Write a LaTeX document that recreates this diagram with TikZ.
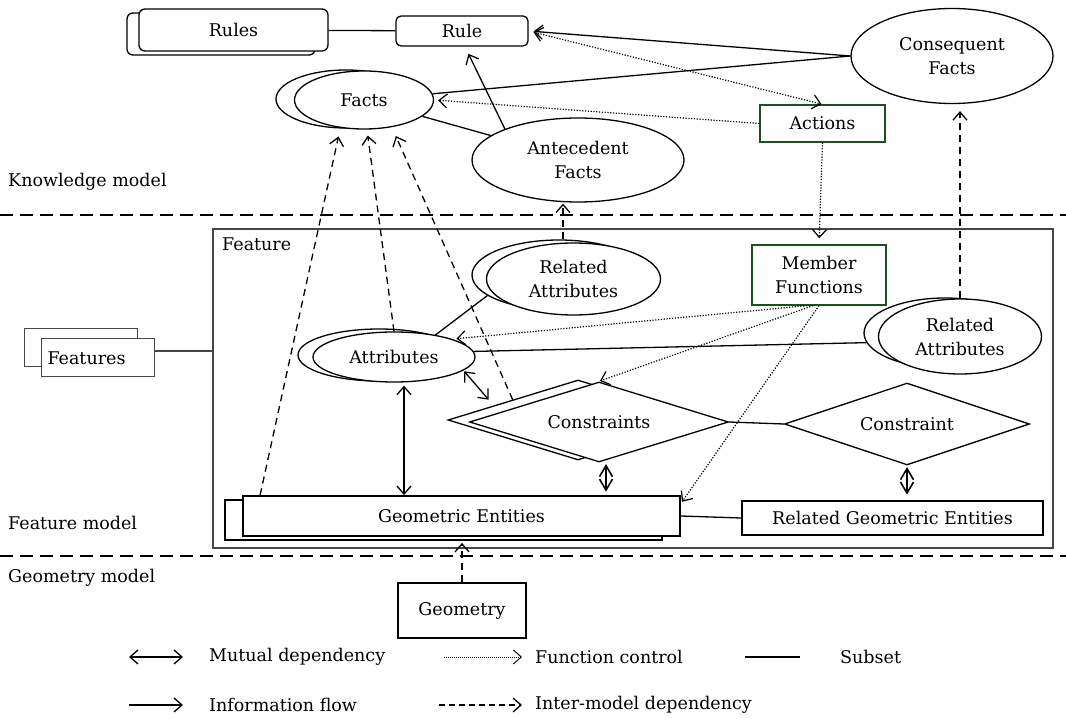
\documentclass[tikz,border=0pt]{standalone}
\usepackage{fontspec}
\setmainfont{DejaVu Serif}
\usetikzlibrary{shapes.geometric,arrows.meta,calc}
\definecolor{boxgreen}{RGB}{30,80,30}
\definecolor{framegray}{RGB}{70,70,70}
\begin{document}
\begin{tikzpicture}[x=1pt,y=-1pt,
  every node/.style={font=\fontsize{17.5}{24}\selectfont},
  ln/.style={line width=1.3pt},
  box/.style={draw,line width=1.3pt,fill=white,inner sep=0pt,align=center},
  ell/.style={ellipse,draw,line width=1.3pt,fill=white,inner sep=0pt,align=center},
  dia/.style={diamond,aspect=3.2,draw,line width=1.3pt,fill=white,inner sep=0pt,align=center},
  gbox/.style={box,draw=boxgreen},
  tip/.style={-{Straight Barb[length=8pt,width=14pt]}},
  dtip/.style={{Straight Barb[length=8pt,width=14pt]}-{Straight Barb[length=8pt,width=14pt]}},
  kiteln/.style={line width=1.6pt,line join=miter},
  dotl/.style={line width=1.2pt,dash pattern=on 1.2pt off 1.6pt},
  dashl/.style={line width=1.3pt,dash pattern=on 7pt off 5pt},
  sepl/.style={line width=1.6pt,dash pattern=on 13pt off 7pt},
  lbl/.style={anchor=west,inner sep=0pt},
]
\useasboundingbox (0,0) rectangle (1066,719);

% separators
\coordinate (s1a) at (0,215); \coordinate (s1b) at (1066,215);
\coordinate (s2a) at (0,556); \coordinate (s2b) at (1066,556);
\draw[sepl] (s1a) -- (s1b);
\draw[sepl] (s2a) -- (s2b);

% feature frame
\node[draw=framegray,line width=1.1pt,minimum width=840pt,minimum height=319pt,inner sep=0pt] (frame) at (633,388.5) {};
\node[lbl] (featlbl) at (222,244) {Feature};

% model labels
\node[lbl] (km) at (8,182) {Knowledge model};
\node[lbl] (fm) at (8,523) {Feature model};
\node[lbl] (gm) at (8,578) {Geometry model};

% knowledge model
\node[box,rounded corners=6pt,minimum width=188pt,minimum height=42pt] (rulesb) at (221,34) {};
\node[box,rounded corners=6pt,minimum width=189pt,minimum height=42pt] (rulesf) at (233.5,30) {Rules};
\node[box,rounded corners=5pt,minimum width=132pt,minimum height=30pt] (rule) at (462,31) {Rule};
\node[ell,minimum width=140pt,minimum height=58pt] (factsb) at (346,99) {};
\node[ell,minimum width=139pt,minimum height=58pt] (factsf) at (364,100) {Facts};
\node[ell,minimum width=212pt,minimum height=84pt] (ante) at (578,160) {Antecedent\\Facts};
\node[ell,minimum width=202pt,minimum height=95pt] (cf) at (952,56) {Consequent\\Facts};
\node[gbox,minimum width=125pt,minimum height=37pt] (actions) at (822.5,123.5) {Actions};

% feature model
\node[box,draw=framegray,line width=1pt,minimum width=113pt,minimum height=38pt] (featb) at (80.5,348) {};
\node[box,draw=framegray,line width=1pt,minimum width=113pt,minimum height=38pt,text width=100pt,align=left] (featf) at (97.5,358) {Features};
\node[gbox,minimum width=134pt,minimum height=60pt] (mf) at (819,275) {Member\\Functions};
\node[ell,minimum width=174pt,minimum height=70pt] (ra1b) at (559,275) {};
\node[ell,minimum width=174pt,minimum height=72pt] (ra1f) at (573.5,279) {Related\\Attributes};
\node[ell,minimum width=162pt,minimum height=52pt] (attrb) at (379,355) {};
\node[ell,minimum width=162pt,minimum height=50pt] (attrf) at (394,357) {Attributes};
\node[ell,minimum width=162pt,minimum height=70pt] (ra2b) at (945,333) {};
\node[ell,minimum width=163pt,minimum height=75pt] (ra2f) at (960,336.5) {Related\\Attributes};
\node[dia,minimum width=260pt,minimum height=80pt] (consb) at (578,420) {};
\node[dia,minimum width=259pt,minimum height=80pt] (consf) at (599,422) {Constraints};
\node[dia,minimum width=245pt,minimum height=82pt] (cons1) at (907,424) {Constraint};
\node[box,line width=1.8pt,minimum width=437pt,minimum height=40pt] (geb) at (443.5,520) {};
\node[box,line width=1.8pt,minimum width=437pt,minimum height=40pt] (gef) at (461.5,516) {Geometric Entities};
\node[box,line width=1.8pt,minimum width=301pt,minimum height=34pt] (rge) at (892.5,518) {Related Geometric Entities};

% geometry model
\node[box,line width=1.5pt,minimum width=128pt,minimum height=55pt] (geom) at (462,610.5) {Geometry};

% knowledge connectors
\draw[ln] (rulesf) -- (rule);
\draw[ln,tip,shorten >=5pt] (cf.west) -- (rule.east);
\draw[ln] (cf.west) -- (factsf);
\draw[dotl,dtip,shorten <=5pt,shorten >=1pt] (rule.east) -- (actions.north);
\draw[dotl,tip,shorten >=4pt] (actions.west) -- (factsf.east);
\draw[ln] (factsf) -- (ante);
\draw[ln,tip,shorten >=8pt] (ante.157) -- ([xshift=3pt]rule.south);
\draw[dotl,tip,shorten >=6pt] (actions.south) -- (mf.north);

% inter-model dependencies
\draw[dashl,tip,shorten >=7pt] ([xshift=18pt]gef.north west) -- ([xshift=-24pt]factsf.south);
\draw[dashl,tip,shorten >=6pt] (attrf.north) -- ([xshift=3pt]factsf.south);
\draw[dashl,tip,shorten >=7pt] (consb.north west) -- ([xshift=29pt]factsf.south);
\draw[dashl,tip,shorten >=1pt] ([xshift=4pt]ra1b.north) -- ([xshift=4pt]ra1b.north |- ante.south);
\draw[dashl,tip,shorten >=7pt] (ra2f.north) -- (ra2f.north |- cf.south);
\draw[dashl,tip,shorten >=2pt] (geom.north) -- (geom.north |- geb.south);

% function control from member functions
\draw[dotl,tip,shorten >=4pt] ([xshift=-12pt]mf.south) -- (attrf.17);
\draw[dotl,tip,shorten >=1pt] ([xshift=-6pt]mf.south) -- (consf.north);
\draw[dotl,tip,shorten >=2pt] (mf.south) -- ($(gef.north east)!0.4!(gef.east)$);

% subsets
\draw[ln] (attrf.28) -- (ra1b.196);
\draw[ln] (attrf.4) -- (ra2b.187);
\draw[line width=1.1pt,framegray] ([yshift=7pt]featf.east) -- ([yshift=7pt]featf.east -| frame.west);
\draw[ln] (consf.east) -- (cons1.west);
\draw[ln] (gef.east) -- (rge.west);

% mutual dependencies
\draw[ln,dtip,shorten <=1pt] (attrf.-11) -- ([xshift=-24pt]consb.north west);
\draw[ln,dtip,shorten <=3pt] ([xshift=10pt]attrf.south) -- ([xshift=10pt]attrf.south |- gef.north);

% kite-shaped mutual dependencies
\path ([xshift=7pt]consf.south) ++(0,3) coordinate (k1t);
\path ([xshift=7pt]consf.south |- gef.north) ++(0,-5) coordinate (k1b);
\path (cons1.south) ++(0,3) coordinate (k2t);
\path (cons1.south |- rge.north) ++(0,-7) coordinate (k2b);
\draw[kiteln] (k1t) -- (k1b);
\draw[kiteln] ($(k1t)+(-6.5,11)$) -- (k1t) -- ($(k1t)+(6.5,11)$);
\draw[kiteln] ($(k1b)+(-6.5,-11)$) -- (k1b) -- ($(k1b)+(6.5,-11)$);
\draw[kiteln] (k2t) -- (k2b);
\draw[kiteln] ($(k2t)+(-6.5,11)$) -- (k2t) -- ($(k2t)+(6.5,11)$);
\draw[kiteln] ($(k2b)+(-6.5,-11)$) -- (k2b) -- ($(k2b)+(6.5,-11)$);

% legend
\coordinate (l1a) at (129,657); \coordinate (l1b) at (183,657);
\coordinate (l2a) at (444,657); \coordinate (l2b) at (522,657);
\coordinate (l3a) at (745,657); \coordinate (l3b) at (800,657);
\coordinate (l4a) at (129,705); \coordinate (l4b) at (183,705);
\coordinate (l5a) at (439,705); \coordinate (l5b) at (522,705);
\draw[ln,dtip] (l1a) -- (l1b);
\node[lbl] (t1) at (209,657) {Mutual dependency};
\draw[line width=0.9pt,dash pattern=on 0.9pt off 1.1pt,tip] (l2a) -- (l2b);
\node[lbl] (t2) at (535,657) {Function control};
\draw[ln] (l3a) -- (l3b);
\node[lbl] (t3) at (840,657) {Subset};
\draw[ln,tip] (l4a) -- (l4b);
\node[lbl] (t4) at (209,705) {Information flow};
\draw[ln,dash pattern=on 6pt off 4pt,tip] (l5a) -- (l5b);
\node[lbl] (t5) at (535,705) {Inter-model dependency};
\end{tikzpicture}
\end{document}
